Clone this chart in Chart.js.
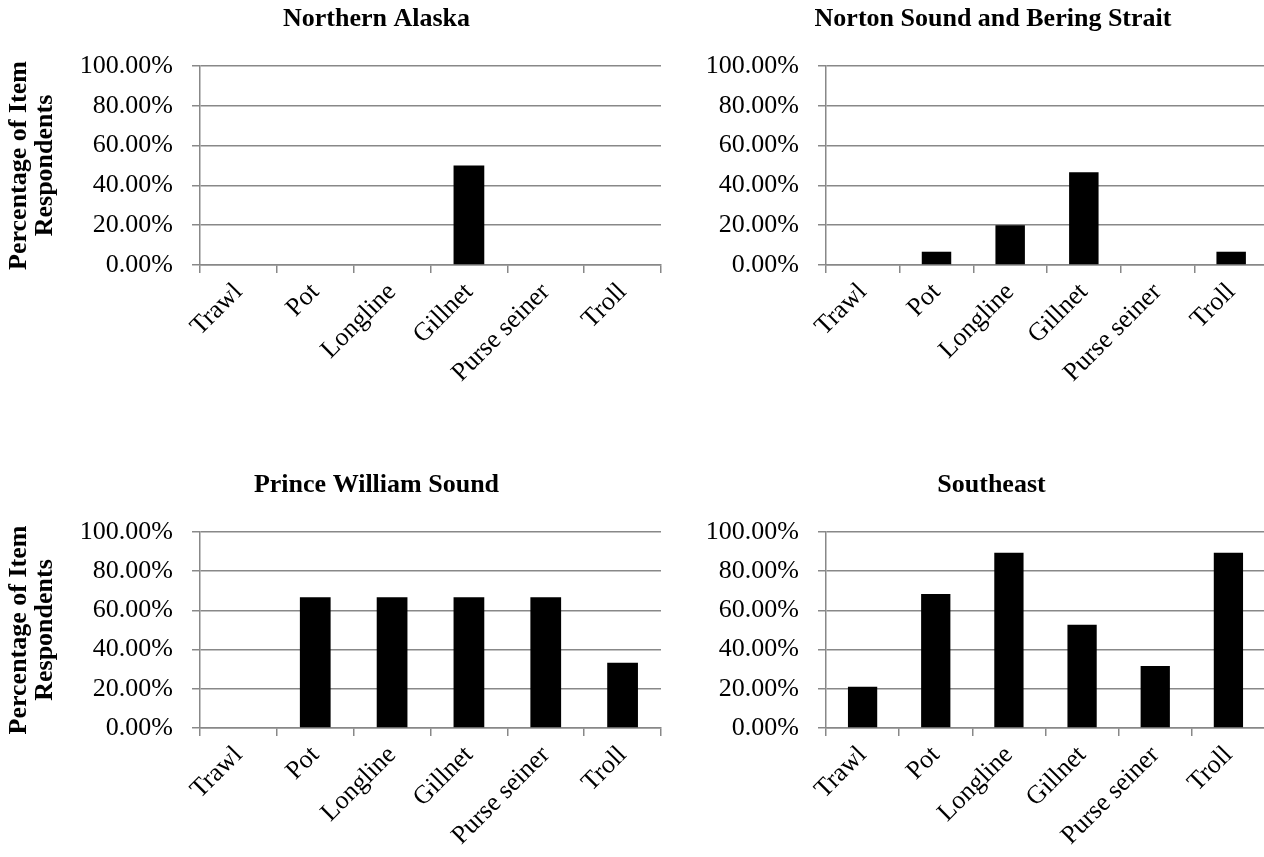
<!DOCTYPE html>
<html>
<head>
<meta charset="utf-8">
<script src="https://cdn.jsdelivr.net/npm/chart.js@4.4.0/dist/chart.umd.min.js"></script>
<style>
    html, body { margin: 0; padding: 0; background: #fff; }
    body { width: 1264px; height: 857px; overflow: hidden; position: relative; }
    canvas { position: absolute; }
</style>
</head>
<body>
<canvas id="grafico1" width="753" height="430" style="left:0px;top:0px"></canvas>
<canvas id="grafico2" width="734" height="430" style="left:626px;top:0px"></canvas>
<canvas id="grafico3" width="753" height="394" style="left:0px;top:463px"></canvas>
<canvas id="grafico4" width="731" height="394" style="left:626px;top:463px"></canvas>
<script>
const categorias = ['Trawl', 'Pot', 'Longline', 'Gillnet', 'Purse seiner', 'Troll'];
const valoresNorthernAlaska = [0, 0, 0, 50, 0, 0];
const valoresNortonSound = [0, 6.67, 20, 46.67, 0, 6.67];
const valoresPrinceWilliam = [0, 66.67, 66.67, 66.67, 66.67, 33.33];
const valoresSoutheast = [21.05, 68.42, 89.47, 52.63, 31.58, 89.47];
const ticksY = [0, 20, 40, 60, 80, 100];
const tituloEixoY = ['Percentage of Item', 'Respondents'];

const fonte = 'Liberation Serif';
const cinza = '#888888';

// topo: distancia do topo do canvas ate a linha de 100%
function criarGrafico(chartId, titulo, valores, mostrarTituloY, paddingTitulo, topo) {
    let canvas = document.getElementById(chartId);
    let alturaEixoX = canvas.height - 265;
    new Chart(canvas.getContext('2d'), {
        type: 'bar',
        data: {
            labels: categorias,
            datasets: [{
                data: valores,
                backgroundColor: '#000000',
                barPercentage: 0.4,
                categoryPercentage: 1.0
            }]
        },
        options: {
            responsive: false,
            animation: false,
            layout: { padding: 0 },
            plugins: {
                legend: { display: false },
                tooltip: { enabled: false },
                title: {
                    display: true,
                    text: titulo,
                    color: '#000',
                    font: { family: fonte, size: 26, weight: 'bold', lineHeight: 1.2 },
                    padding: { top: paddingTitulo, bottom: topo - paddingTitulo - 31.2 }
                }
            },
            scales: {
                x: {
                    grid: { drawOnChartArea: false, tickLength: 8, color: cinza, lineWidth: 1.5, offset: true },
                    border: { color: cinza, width: 1.5 },
                    ticks: {
                        color: '#000',
                        font: { family: fonte, size: 26 },
                        minRotation: 45,
                        maxRotation: 45,
                        autoSkip: false,
                        padding: 4
                    },
                    afterFit: function(s) { s.height = alturaEixoX; }
                },
                y: {
                    min: ticksY[0],
                    max: ticksY[ticksY.length - 1],
                    ticks: {
                        stepSize: ticksY[1] - ticksY[0],
                        color: '#000',
                        font: { family: fonte, size: 26 },
                        padding: 19,
                        callback: function(v) { return v.toFixed(2) + '%'; }
                    },
                    grid: { color: cinza, lineWidth: 1.5, tickLength: 8 },
                    border: { color: cinza, width: 1.5 },
                    title: {
                        display: mostrarTituloY,
                        text: tituloEixoY,
                        color: '#000',
                        font: { family: fonte, size: 26, weight: 'bold', lineHeight: 1.0 },
                        padding: { top: 6, bottom: 0 }
                    },
                    afterFit: function(s) { s.width = 200; }
                },
                margem: {
                    type: 'linear',
                    position: 'right',
                    display: true,
                    grid: { display: false },
                    border: { display: false },
                    ticks: { display: false },
                    afterFit: function(s) { s.width = 92; }
                }
            }
        }
    });
}

criarGrafico('grafico1', 'Northern Alaska', valoresNorthernAlaska, true, 4, 66);
criarGrafico('grafico2', 'Norton Sound and Bering Strait', valoresNortonSound, false, 4, 66);
criarGrafico('grafico3', 'Prince William Sound', valoresPrinceWilliam, true, 7, 69);
criarGrafico('grafico4', 'Southeast', valoresSoutheast, false, 7, 69);
</script>
</body>
</html>
